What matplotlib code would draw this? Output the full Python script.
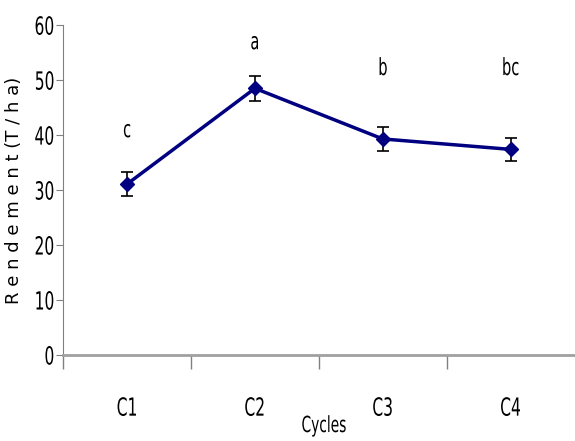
import matplotlib.pyplot as plt
from matplotlib import patheffects
from matplotlib.transforms import Affine2D

# data
cycles = ['C1', 'C2', 'C3', 'C4']
rendement = [31.1, 48.5, 39.3, 37.4]
erreur = [2.2, 2.3, 2.2, 2.1]
lettres = ['c', 'a', 'b', 'bc']
lettre_y = [40.9, 56.9, 52.2, 52.2]


# squeeze glyphs sideways to mimic the narrow font of the original
class Narrow(patheffects.AbstractPathEffect):
    def __init__(self, sx=0.7, anchor='center'):
        super().__init__()
        self.sx = sx
        self.anchor = anchor

    def draw_path(self, renderer, gc, tpath, affine, rgbFace=None):
        ext = tpath.get_extents()
        if self.anchor == 'right':
            cx = ext.x1
        else:
            cx = (ext.x0 + ext.x1) / 2
        tr = Affine2D().translate(-cx, 0).scale(self.sx, 1).translate(cx, 0) + affine
        renderer.draw_path(gc, tpath, tr, rgbFace)


narrow = [Narrow(0.62)]

fig = plt.figure(figsize=(5.75, 4.41), dpi=100)
ax = fig.add_axes([0.110, 0.195, 0.889, 0.748])

x = list(range(1, len(cycles) + 1))
ax.errorbar(x, rendement, yerr=erreur, color='#000080', lw=2.5,
            marker='D', ms=7, ecolor='black', elinewidth=1.2,
            capsize=4, capthick=1.2, zorder=3)

for xi, yi, t in zip(x, lettre_y, lettres):
    ax.text(xi, yi, t, ha='center', va='center', fontsize=17,
            path_effects=narrow)

ax.set_xlim(0.5, 4.5)
ax.set_ylim(0, 60)
ax.set_yticks(range(0, 61, 10))
ax.tick_params(axis='y', labelsize=18, length=5, color='#808080', pad=1)
for lab in ax.get_yticklabels():
    lab.set_path_effects([Narrow(0.62, 'right')])

ax.set_xticks(x)
ax.set_xticklabels(cycles)
ax.tick_params(axis='x', which='major', length=0, pad=30, labelsize=18)
for lab in ax.get_xticklabels():
    lab.set_path_effects(narrow)
ax.set_xticks([0.5, 1.5, 2.5, 3.5], minor=True)
ax.tick_params(axis='x', which='minor', length=10, color='#808080', width=1)

for s in ['top', 'right']:
    ax.spines[s].set_visible(False)
ax.spines['left'].set_color('#808080')
ax.spines['bottom'].set_color('#a0a0a0')
ax.spines['bottom'].set_linewidth(2)

ax.set_xlabel('Cycles', fontsize=16, path_effects=narrow)
ax.xaxis.set_label_coords(0.51, -0.185)
ax.set_ylabel('R e n d e m e n t (T / h a)', fontsize=13)
ax.yaxis.set_label_coords(-0.078, 0.5)

fig.savefig('out.png', dpi=100)
